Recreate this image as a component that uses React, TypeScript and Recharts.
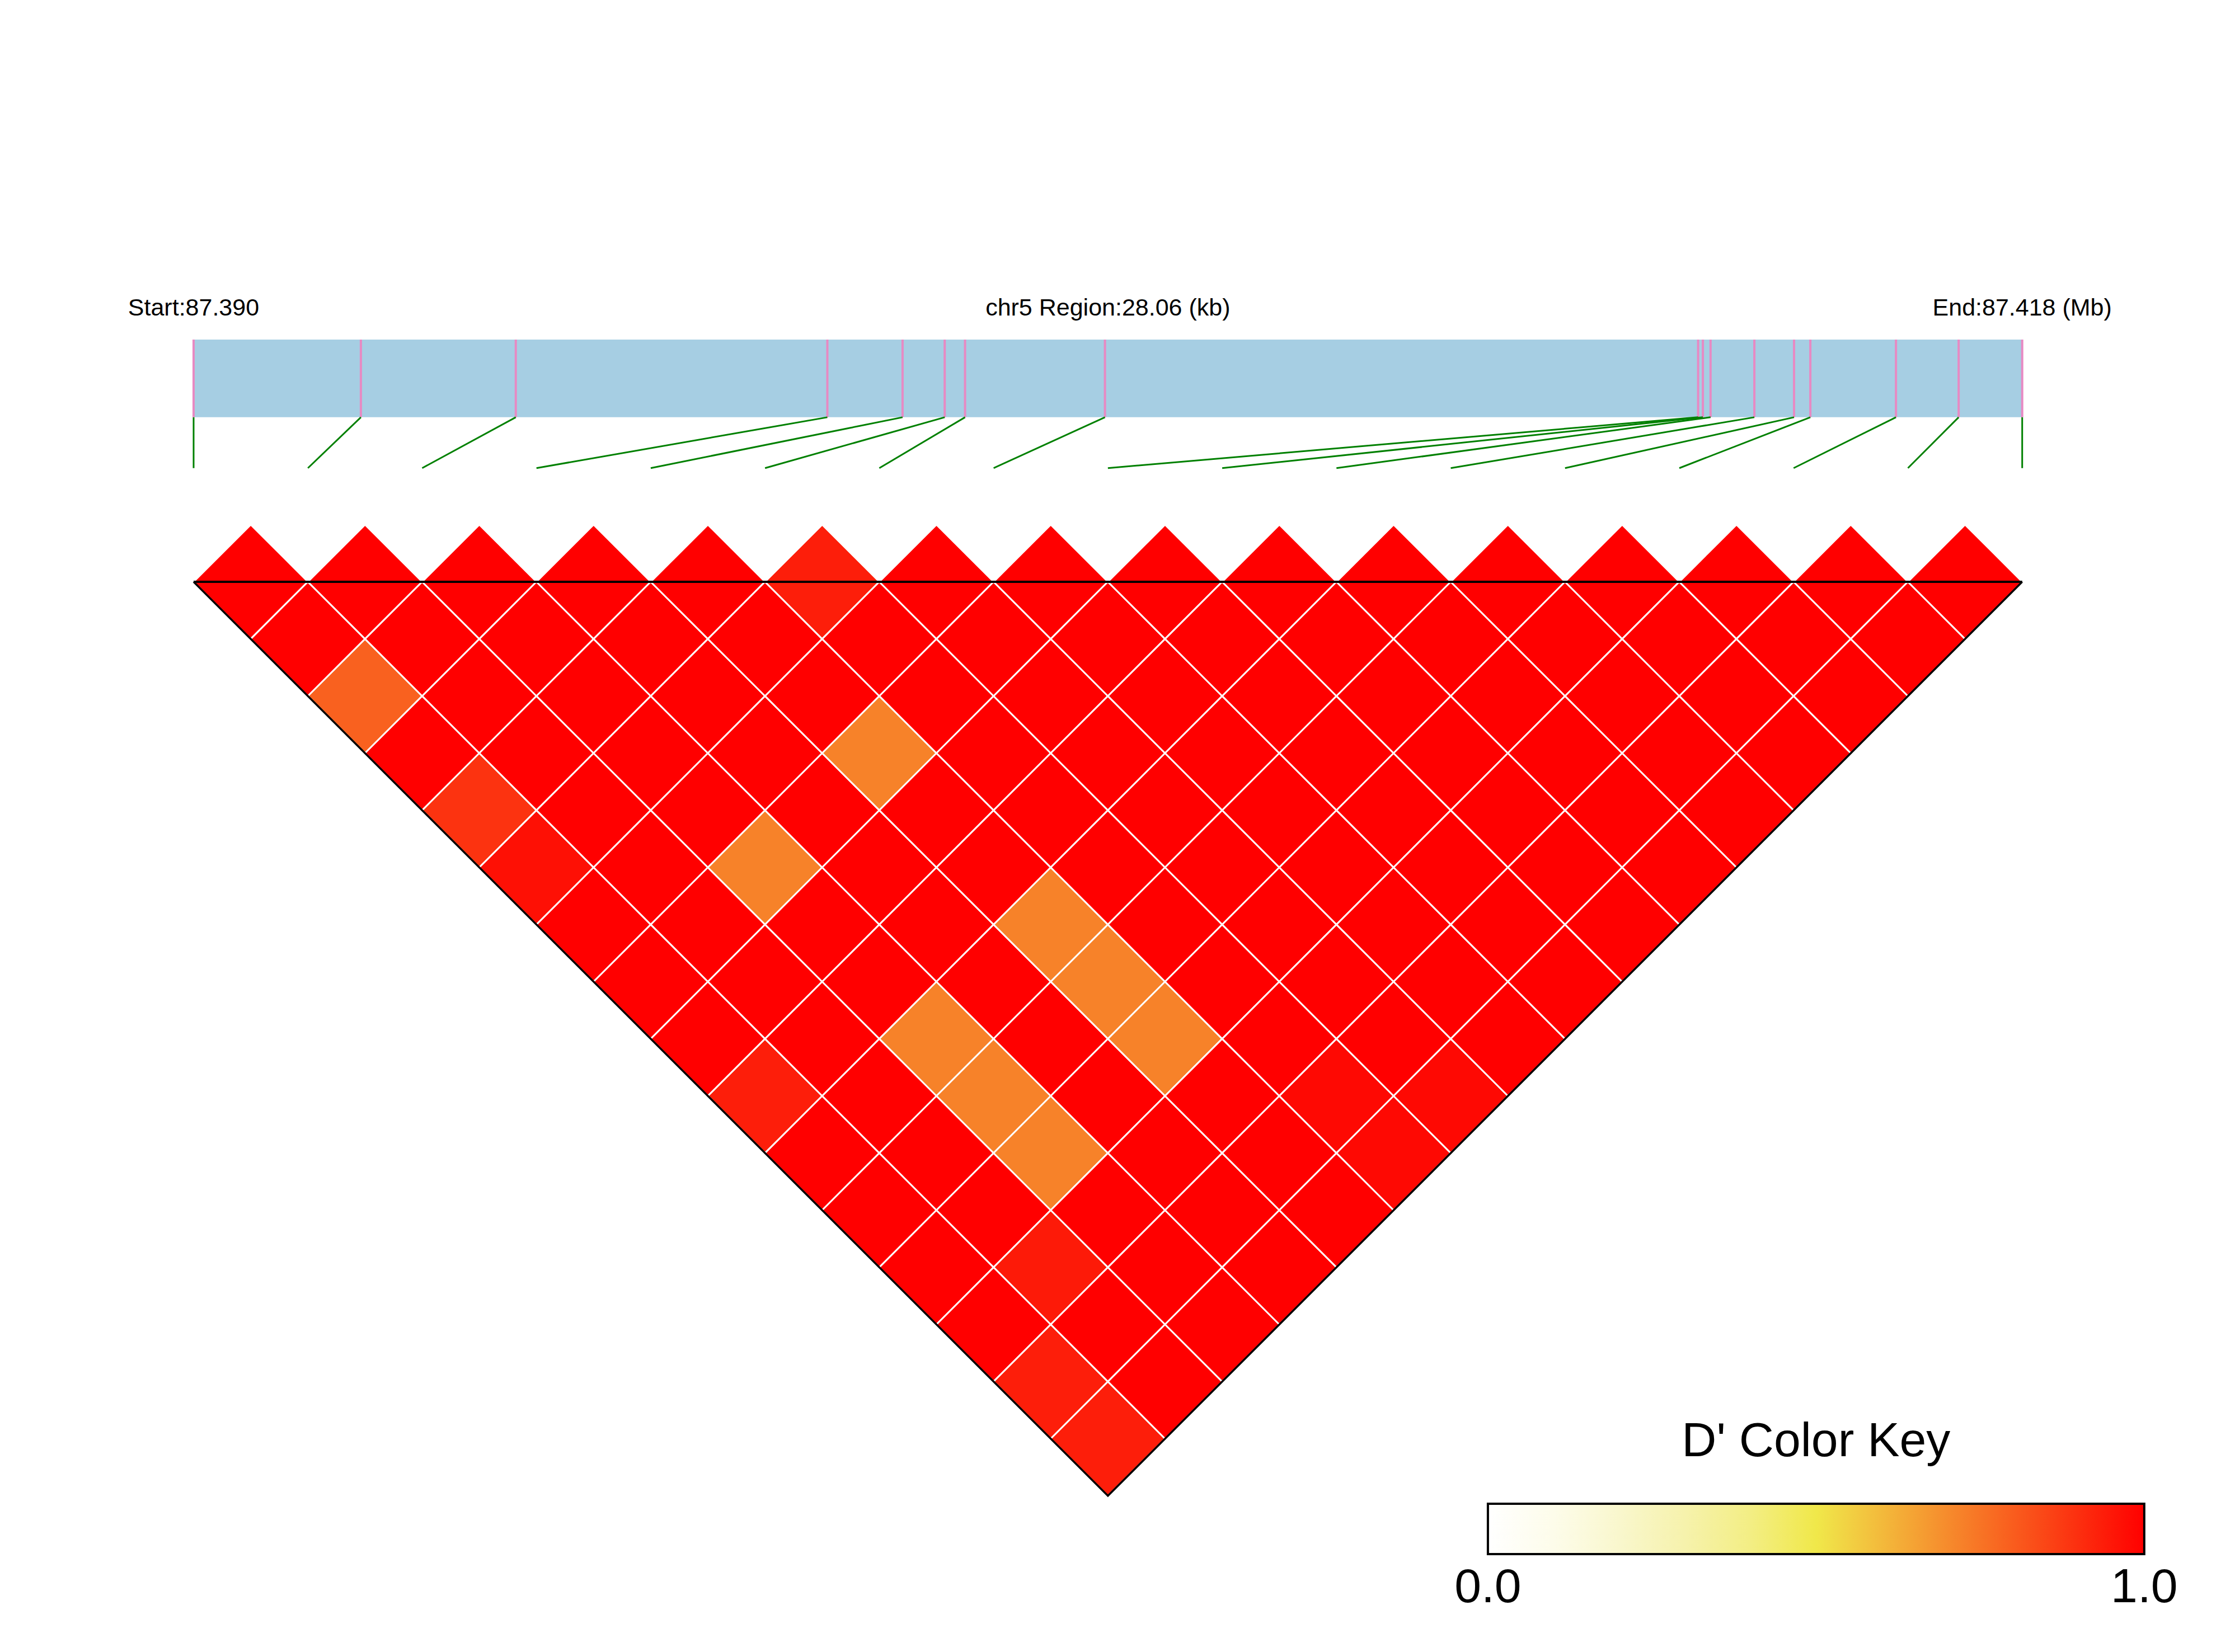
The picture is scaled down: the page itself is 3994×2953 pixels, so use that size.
import React from 'react';
import { ScatterChart, Scatter, XAxis, YAxis, ReferenceLine, ReferenceArea, ReferenceDot } from 'recharts';

// SNP positions on chr5 (bp)
const snpPositions = [
  87390200, 87392767, 87395144, 87399925, 87401079, 87401726, 87402038, 87404185, 87413287,
  87413360, 87413478, 87414150, 87414759, 87415009, 87416323, 87417285, 87418260,
];

// D' of SNP i with SNPs i+1 .. n-1
const dPrimeRows = [
  [1, 1, 0.79, 1, 0.89, 0.965, 1, 1, 1, 0.935, 1, 1, 1, 1, 0.935, 0.935],
  [1, 1, 1, 1, 1, 1, 1, 1, 1, 1, 1, 1, 0.945, 1, 1],
  [1, 1, 1, 1, 1, 0.72, 1, 1, 0.72, 0.72, 0.72, 1, 1, 1],
  [1, 1, 1, 1, 1, 1, 1, 1, 1, 1, 1, 1, 1],
  [1, 1, 1, 0.72, 1, 1, 0.72, 0.72, 0.72, 1, 1, 1],
  [0.935, 1, 1, 1, 1, 1, 1, 1, 1, 0.98, 0.98],
  [1, 1, 1, 1, 1, 1, 1, 1, 1, 0.98],
  [1, 1, 1, 1, 1, 1, 1, 1, 1],
  [1, 1, 1, 1, 1, 1, 1, 1],
  [1, 1, 1, 1, 1, 1, 1],
  [1, 1, 1, 1, 1, 1],
  [1, 1, 1, 1, 1],
  [1, 1, 1, 1],
  [1, 1, 1],
  [1, 1],
  [1],
];

// colour key
const keyStops = [
  { at: 0, color: '#FFFFFF' },
  { at: 0.1, color: '#FDFCEA' },
  { at: 0.2, color: '#F9F7CD' },
  { at: 0.3, color: '#F6F2AC' },
  { at: 0.4, color: '#F3EE84' },
  { at: 0.5, color: '#F0E84A' },
  { at: 1, color: '#FF0000' },
];
const keyTicks = ['0.0', '1.0'];
const keyTitle = "D' Color Key";
const chromosome = 'chr5';

const W = 3994;
const H = 2953;
const X_DOMAIN = [-1.694, 17.862];
const Y_DOMAIN = [-5.092, 9.367];
const PX = W / (X_DOMAIN[1] - X_DOMAIN[0]);

const LABEL_Y = -2.33;
const BAR_TOP = -2.12;
const BAR_BOTTOM = -1.44;
const LINK_BOTTOM = -0.995;
const KEY_X = [11.325, 17.068];
const KEY_Y = [8.069, 8.51];
const KEY_TITLE_Y = 7.653;
const KEY_TICK_Y = 8.931;

const FONT = '"Liberation Sans", Arial, Helvetica, sans-serif';

const hex = (c: string) => [1, 3, 5].map((k) => parseInt(c.slice(k, k + 2), 16));

const dColor = (d: number) => {
  for (let k = 1; k < keyStops.length; k++) {
    const a = keyStops[k - 1];
    const b = keyStops[k];
    if (d <= b.at) {
      const t = (d - a.at) / (b.at - a.at);
      const ca = hex(a.color);
      const cb = hex(b.color);
      const m = ca.map((v, n) => Math.round(v + (cb[n] - v) * t));
      return `rgb(${m[0]},${m[1]},${m[2]})`;
    }
  }
  return keyStops[keyStops.length - 1].color;
};

const n = snpPositions.length;
const start = snpPositions[0];
const end = snpPositions[n - 1];
const span = n - 1;
const genomicX = (p: number) => ((p - start) / (end - start)) * span;

const cells = dPrimeRows.flatMap((row, i) =>
  row.map((d, k) => {
    const j = i + 1 + k;
    return { x: (i + j) / 2, y: (j - i - 1) / 2, d };
  })
);

// outline of the triangle: baseline and the two outer edges
const baseline = [
  { x: 0, y: 0 },
  { x: span, y: 0 },
];
const outerEdges = [
  { x: 0, y: 0 },
  { x: span / 2, y: span / 2 },
  { x: span, y: 0 },
];

const renderCell = (props: any) => {
  const { cx, cy, payload } = props;
  const h = PX / 2;
  return (
    <polygon
      points={`${cx},${cy - h} ${cx + h},${cy} ${cx},${cy + h} ${cx - h},${cy}`}
      fill={dColor(payload.d)}
      stroke="#FFFFFF"
      strokeWidth={3}
    />
  );
};

const noPoint = () => <g />;

const textShape = (value: string, size: number) => (props: any) => (
  <text
    x={props.cx}
    y={props.cy}
    textAnchor="middle"
    fontSize={size}
    fontFamily={FONT}
    fill="#000000"
  >
    {value}
  </text>
);

const App: React.FC = () => {
  const topLabels = [
    { x: 0, text: `Start:${(start / 1e6).toFixed(3)}` },
    { x: span / 2, text: `${chromosome} Region:${((end - start) / 1000).toFixed(2)} (kb)` },
    { x: span, text: `End:${(end / 1e6).toFixed(3)} (Mb)` },
  ];

  return (
    <div style={{ position: 'absolute', top: 0, left: 0, width: W, height: H, background: '#FFFFFF' }}>
      <ScatterChart width={W} height={H} margin={{ top: 0, right: 0, bottom: 0, left: 0 }}>
        <defs>
          <linearGradient id="dKey" x1="0" y1="0" x2="1" y2="0">
            {keyStops.map((s) => (
              <stop key={s.at} offset={s.at} stopColor={s.color} />
            ))}
          </linearGradient>
        </defs>
        <XAxis type="number" dataKey="x" domain={X_DOMAIN} allowDataOverflow hide />
        <YAxis type="number" dataKey="y" domain={Y_DOMAIN} allowDataOverflow reversed hide />

        <ReferenceArea x1={0} x2={span} y1={BAR_TOP} y2={BAR_BOTTOM} fill="#A6CEE3" fillOpacity={1} stroke="none" />
        {snpPositions.map((p, i) => (
          <ReferenceLine
            key={`snp-${i}`}
            segment={[{ x: genomicX(p), y: BAR_TOP }, { x: genomicX(p), y: BAR_BOTTOM }]}
            stroke="#E78AC3"
            strokeWidth={4}
          />
        ))}
        {snpPositions.map((p, i) => (
          <ReferenceLine
            key={`link-${i}`}
            segment={[{ x: genomicX(p), y: BAR_BOTTOM }, { x: i, y: LINK_BOTTOM }]}
            stroke="#008000"
            strokeWidth={3}
          />
        ))}

        <Scatter data={cells} shape={renderCell} isAnimationActive={false} />
        <Scatter
          data={outerEdges}
          shape={noPoint}
          line={{ stroke: '#000000', strokeWidth: 3.5, fill: 'none' }}
          isAnimationActive={false}
        />
        <Scatter
          data={baseline}
          shape={noPoint}
          line={{ stroke: '#000000', strokeWidth: 4, fill: 'none' }}
          isAnimationActive={false}
        />

        {topLabels.map((l) => (
          <ReferenceDot key={l.text} x={l.x} y={LABEL_Y} r={0} shape={textShape(l.text, 43)} />
        ))}

        <ReferenceArea
          x1={KEY_X[0]}
          x2={KEY_X[1]}
          y1={KEY_Y[0]}
          y2={KEY_Y[1]}
          fill="url(#dKey)"
          fillOpacity={1}
          stroke="#000000"
          strokeWidth={4}
        />
        <ReferenceDot
          x={(KEY_X[0] + KEY_X[1]) / 2}
          y={KEY_TITLE_Y}
          r={0}
          shape={textShape(keyTitle, 86)}
        />
        {keyTicks.map((t, k) => (
          <ReferenceDot
            key={t}
            x={KEY_X[0] + ((KEY_X[1] - KEY_X[0]) * k) / (keyTicks.length - 1)}
            y={KEY_TICK_Y}
            r={0}
            shape={textShape(t, 86)}
          />
        ))}
      </ScatterChart>
    </div>
  );
};

export default App;
